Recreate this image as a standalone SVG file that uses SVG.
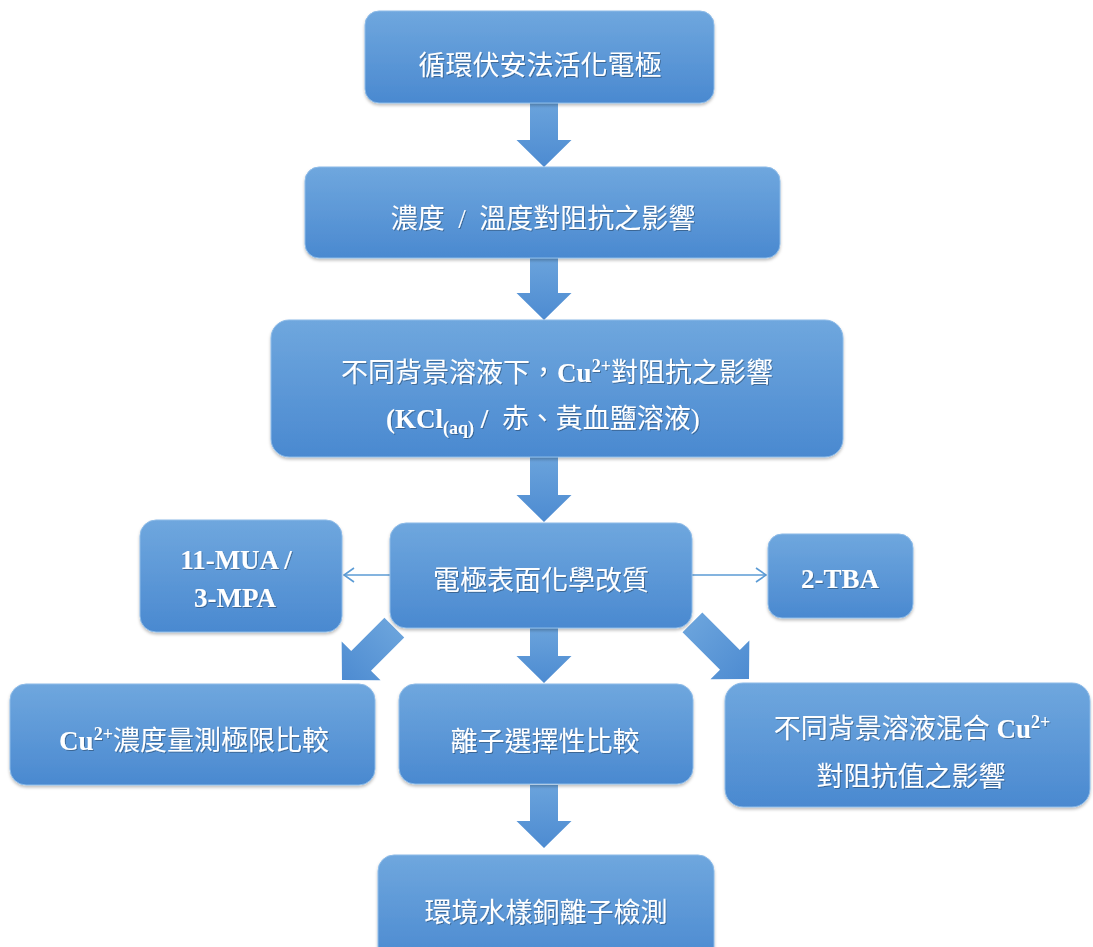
<svg xmlns="http://www.w3.org/2000/svg" width="1093" height="947" viewBox="0 0 1093 947">
<defs>
<linearGradient id="g" x1="0" y1="0" x2="0" y2="1">
<stop offset="0" stop-color="#6fa7de"/>
<stop offset="1" stop-color="#4a89d0"/>
</linearGradient>
<linearGradient id="ga" x1="0" y1="0" x2="0" y2="1">
<stop offset="0" stop-color="#6aa3dc"/>
<stop offset="1" stop-color="#4d8bd1"/>
</linearGradient>
<filter id="sh" x="-10%" y="-10%" width="120%" height="130%">
<feDropShadow dx="0" dy="2" stdDeviation="1.5" flood-color="#000" flood-opacity="0.25"/>
</filter>
<filter id="ts" x="-5%" y="-20%" width="110%" height="140%">
<feDropShadow dx="1" dy="1" stdDeviation="0.6" flood-color="#000" flood-opacity="0.3"/>
</filter>
<marker id="open" viewBox="0 0 12 16" refX="11" refY="8" markerWidth="12" markerHeight="16" markerUnits="userSpaceOnUse" orient="auto">
<path d="M1,1 L11,8 L1,15" fill="none" stroke="#5b9bd5" stroke-width="1.6"/>
</marker>
</defs>
<style>
.box{fill:url(#g);stroke:#8dbbe8;stroke-width:1;filter:url(#sh)}
.arr{fill:url(#ga)}
.t{fill:#fff;font-family:"Liberation Serif","Noto Sans CJK TC",serif;font-size:27px;text-anchor:middle;filter:url(#ts)}
.b{font-weight:bold}
.thin{stroke:#5b9bd5;stroke-width:1.6;fill:none;marker-end:url(#open)}
</style>
<g id="connectors">
<path class="arr" transform="translate(544,167)" d="M-14,-64 H14 V-27 H27.5 L0,0 L-27.5,-27 H-14 Z"/>
<path class="arr" transform="translate(544,320)" d="M-14,-62 H14 V-27 H27.5 L0,0 L-27.5,-27 H-14 Z"/>
<path class="arr" transform="translate(544,522)" d="M-14,-65 H14 V-27 H27.5 L0,0 L-27.5,-27 H-14 Z"/>
<path class="arr" transform="translate(544,683)" d="M-14,-55 H14 V-27 H27.5 L0,0 L-27.5,-27 H-14 Z"/>
<path class="arr" transform="translate(544,848)" d="M-14,-63 H14 V-27 H27.5 L0,0 L-27.5,-27 H-14 Z"/>
<path class="arr" transform="translate(342,680) rotate(45)" d="M-14,-74 H14 V-27 H27.5 L0,0 L-27.5,-27 H-14 Z"/>
<path class="arr" transform="translate(749,679) rotate(-45)" d="M-14,-80 H14 V-27 H27.5 L0,0 L-27.5,-27 H-14 Z"/>
<line class="thin" x1="390" y1="575" x2="344" y2="575"/>
<line class="thin" x1="692" y1="575" x2="766" y2="575"/>
</g>
<g id="n1">
<rect class="box" x="365" y="11" width="349" height="92" rx="14"/>
<text class="t" x="540" y="75">循環伏安法活化電極</text>
</g>
<g id="n2">
<rect class="box" x="305" y="167" width="475" height="91" rx="14"/>
<text class="t" x="543" y="228" xml:space="preserve">濃度  /  溫度對阻抗之影響</text>
</g>
<g id="n3">
<rect class="box" x="271" y="320" width="572" height="137" rx="18"/>
<text class="t" x="557" y="382">不同背景溶液下，<tspan class="b">Cu</tspan><tspan class="b" font-size="18" dy="-10">2+</tspan><tspan dy="10">對阻抗之影響</tspan></text>
<text class="t" x="543" y="428" xml:space="preserve"><tspan class="b">(KCl</tspan><tspan class="b" font-size="18" dy="6">(aq)</tspan><tspan class="b" dy="-6"> / </tspan> 赤、黃血鹽溶液)</text>
</g>
<g id="n4">
<rect class="box" x="390" y="523" width="302" height="105" rx="16"/>
<text class="t" x="541" y="590">電極表面化學改質</text>
</g>
<g id="n5">
<rect class="box" x="140" y="520" width="202" height="112" rx="16"/>
<text class="t b" x="236" y="569" font-size="29">11-MUA /</text>
<text class="t b" x="235" y="607" font-size="29">3-MPA</text>
</g>
<g id="n6">
<rect class="box" x="768" y="534" width="145" height="84" rx="14"/>
<text class="t b" x="840" y="588" font-size="29">2-TBA</text>
</g>
<g id="n7">
<rect class="box" x="10" y="684" width="365" height="101" rx="16"/>
<text class="t" x="194" y="750"><tspan class="b">Cu</tspan><tspan class="b" font-size="18" dy="-10">2+</tspan><tspan dy="10">濃度量測極限比較</tspan></text>
</g>
<g id="n8">
<rect class="box" x="399" y="684" width="294" height="100" rx="16"/>
<text class="t" x="545" y="751">離子選擇性比較</text>
</g>
<g id="n9">
<rect class="box" x="725" y="683" width="365" height="124" rx="18"/>
<text class="t" x="912" y="738" xml:space="preserve">不同背景溶液混合 <tspan class="b">Cu</tspan><tspan class="b" font-size="18" dy="-10">2+</tspan></text>
<text class="t" x="911" y="786">對阻抗值之影響</text>
</g>
<g id="n10">
<rect class="box" x="378" y="855" width="336" height="110" rx="16"/>
<text class="t" x="546" y="922">環境水樣銅離子檢測</text>
</g>
</svg>
